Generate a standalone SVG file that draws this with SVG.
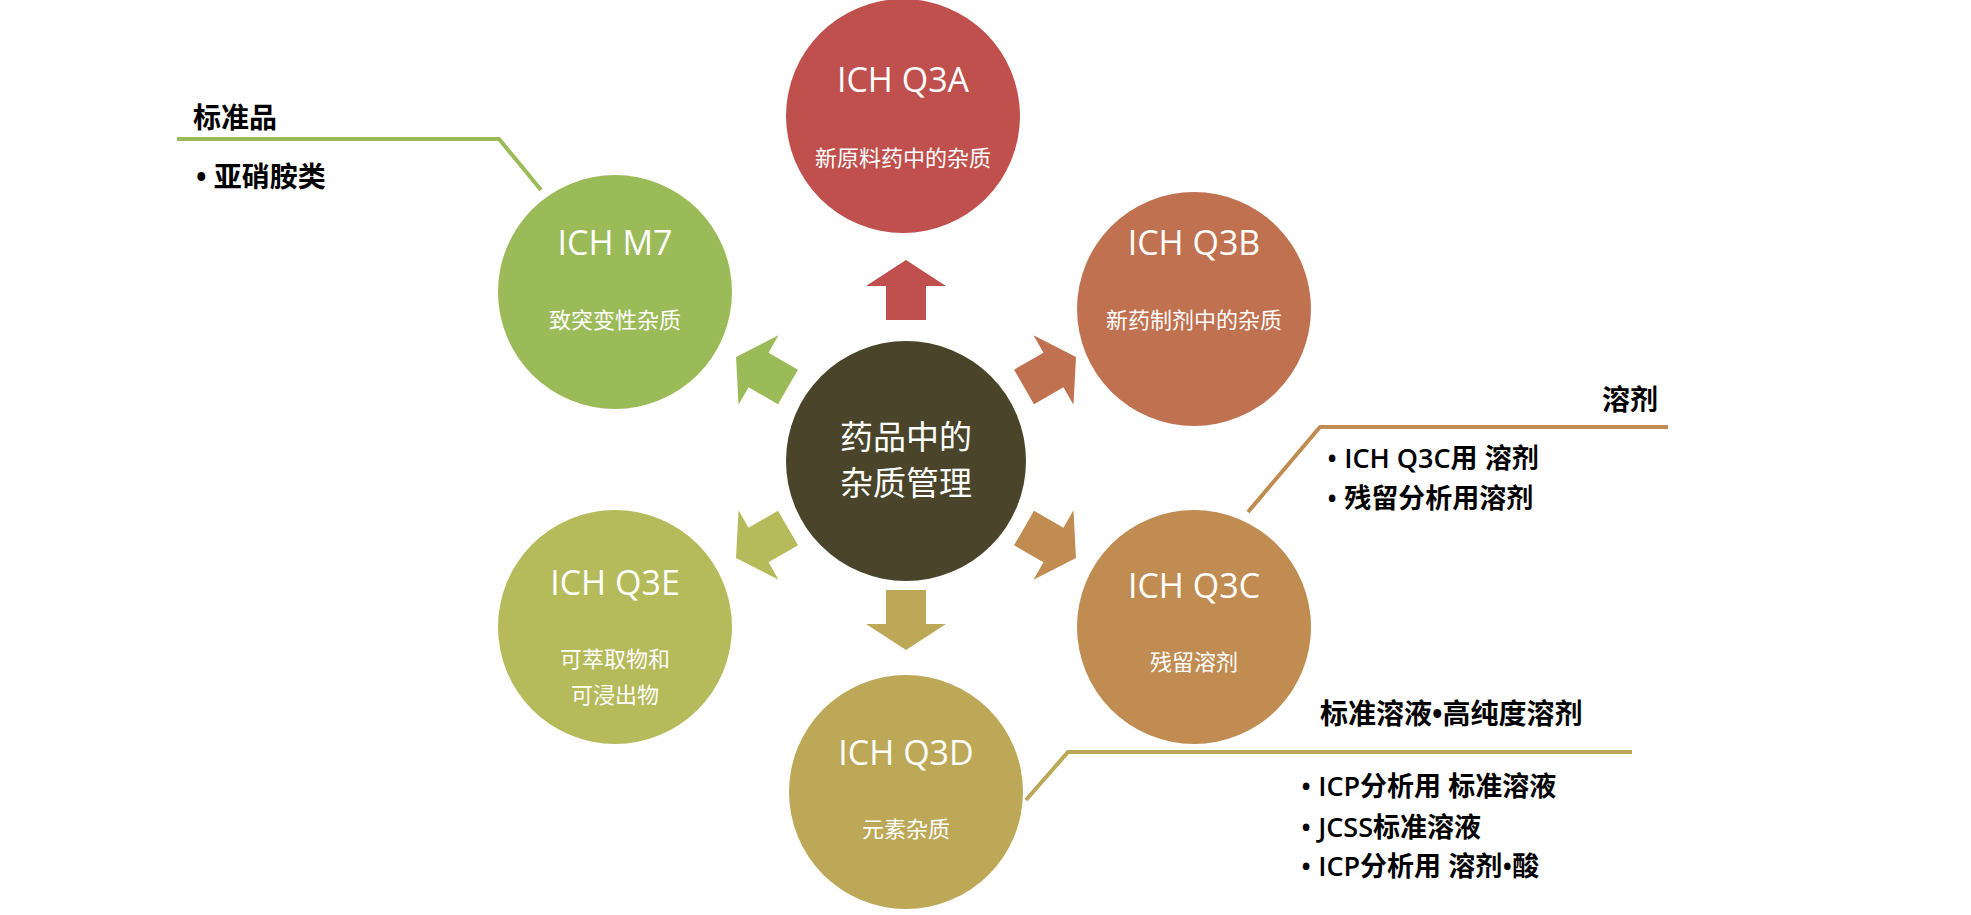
<svg xmlns="http://www.w3.org/2000/svg" width="1971" height="915" viewBox="0 0 1971 915">
<style>
text{font-family:"Open Sans","Noto Sans CJK SC",sans-serif}
.t{fill:#fff;font-size:34px;text-anchor:middle}
.s{fill:#fff;font-size:22px;text-anchor:middle}
.c{fill:#fff;font-size:33px;text-anchor:middle}
.h{fill:#000;font-size:28px;font-weight:bold}
.b{fill:#000;font-size:27px;font-weight:600}
.ln{fill:none;stroke-width:4}
</style>
<defs>
<polygon id="arr" points="0,-30 40,-4 20,-4 20,30 -20,30 -20,-4 -40,-4"/>
</defs>
<g id="connectors">
<use href="#arr" fill="#C0504D" transform="translate(906,290)"/>
<use href="#arr" fill="#C0714F" transform="translate(1050,372) rotate(60)"/>
<use href="#arr" fill="#C08C52" transform="translate(1050,543) rotate(120)"/>
<use href="#arr" fill="#BDA858" transform="translate(906,620) rotate(180)"/>
<use href="#arr" fill="#B5BA5A" transform="translate(762,543) rotate(240)"/>
<use href="#arr" fill="#9BBB59" transform="translate(762,372) rotate(300)"/>
<polyline class="ln" stroke="#9BBB59" points="177,139 499,139 541,190"/>
<polyline class="ln" stroke="#C08C52" points="1668,427 1320,427 1248,512"/>
<polyline class="ln" stroke="#BDA858" points="1632,752 1068,752 1026,800"/>
</g>
<g id="center"><circle cx="906" cy="461" r="120" fill="#4A452A"/>
<text class="c" x="906" y="449">药品中的</text><text class="c" x="906" y="495">杂质管理</text></g>
<g id="q3a"><circle cx="903" cy="116" r="117" fill="#C0504D"/>
<text class="t" x="903" y="92">ICH Q3A</text><text class="s" x="903" y="166">新原料药中的杂质</text></g>
<g id="q3b"><circle cx="1194" cy="309" r="117" fill="#C0714F"/>
<text class="t" x="1194" y="255">ICH Q3B</text><text class="s" x="1194" y="328">新药制剂中的杂质</text></g>
<g id="q3c"><circle cx="1194" cy="627" r="117" fill="#C08C52"/>
<text class="t" x="1194" y="598">ICH Q3C</text><text class="s" x="1194" y="670">残留溶剂</text></g>
<g id="q3d"><circle cx="906" cy="792" r="117" fill="#BDA858"/>
<text class="t" x="906" y="765">ICH Q3D</text><text class="s" x="906" y="837">元素杂质</text></g>
<g id="q3e"><circle cx="615" cy="627" r="117" fill="#B5BA5A"/>
<text class="t" x="615" y="595">ICH Q3E</text><text class="s" x="615" y="667">可萃取物和</text><text class="s" x="615" y="703">可浸出物</text></g>
<g id="m7"><circle cx="615" cy="292" r="117" fill="#9BBB59"/>
<text class="t" x="615" y="255">ICH M7</text><text class="s" x="615" y="328">致突变性杂质</text></g>
<g id="callout-m7"><text class="h" x="193" y="128">标准品</text><text class="h" x="196" y="187">• 亚硝胺类</text></g>
<g id="callout-q3c"><text class="h" x="1658" y="410" text-anchor="end">溶剂</text>
<text class="b" x="1327" y="468">• ICH Q3C用 溶剂</text><text class="b" x="1327" y="508">• 残留分析用溶剂</text></g>
<g id="callout-q3d"><text class="h" x="1320" y="724">标准溶液•高纯度溶剂</text>
<text class="b" x="1301" y="796">• ICP分析用 标准溶液</text><text class="b" x="1301" y="837">• JCSS标准溶液</text><text class="b" x="1301" y="876">• ICP分析用 溶剂•酸</text></g>
</svg>
